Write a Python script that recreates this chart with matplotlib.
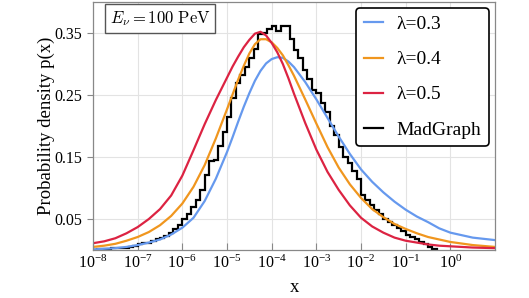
import numpy as np
import matplotlib
matplotlib.use("Agg")
import matplotlib.pyplot as plt

plt.rcParams["font.family"] = ["Liberation Serif", "DejaVu Serif"]
plt.rcParams["mathtext.fontset"] = "stix"

# curves: log10(x) and p(x)
logx_03 = [-8.0, -7.75, -7.5, -7.25, -7.0, -6.75, -6.5, -6.25, -6.0, -5.75, -5.5, -5.25,
           -5.0, -4.875, -4.75, -4.625, -4.5, -4.375, -4.25, -4.125, -4.0, -3.875, -3.75,
           -3.625, -3.5, -3.25, -3.0, -2.75, -2.5, -2.25, -2.0, -1.75, -1.5, -1.25, -1.0,
           -0.75, -0.5, -0.25, 0.0, 0.25, 0.5, 0.75, 1.0]
p_03 = [0.001, 0.002, 0.003, 0.005, 0.008, 0.012, 0.017, 0.025, 0.036, 0.052, 0.079, 0.115,
        0.158, 0.182, 0.207, 0.231, 0.253, 0.273, 0.289, 0.301, 0.308, 0.311, 0.310,
        0.304, 0.295, 0.271, 0.243, 0.213, 0.183, 0.155, 0.130, 0.110, 0.093, 0.078, 0.065,
        0.054, 0.045, 0.035, 0.028, 0.024, 0.020, 0.018, 0.016]

logx_04 = [-8.0, -7.75, -7.5, -7.25, -7.0, -6.75, -6.5, -6.25, -6.0, -5.75, -5.5, -5.25,
           -5.0, -4.875, -4.75, -4.625, -4.5, -4.375, -4.25, -4.125, -4.0, -3.875, -3.75,
           -3.625, -3.5, -3.25, -3.0, -2.75, -2.5, -2.25, -2.0, -1.75, -1.5, -1.25, -1.0,
           -0.75, -0.5, -0.25, 0.0, 0.5, 1.0]
p_04 = [0.005, 0.007, 0.010, 0.015, 0.021, 0.029, 0.040, 0.055, 0.075, 0.102, 0.137, 0.180,
        0.227, 0.251, 0.275, 0.297, 0.317, 0.332, 0.340, 0.340, 0.335, 0.326, 0.314,
        0.298, 0.281, 0.243, 0.204, 0.166, 0.133, 0.106, 0.084, 0.066, 0.053, 0.042, 0.034,
        0.027, 0.021, 0.017, 0.013, 0.008, 0.005]

logx_05 = [-8.0, -7.75, -7.5, -7.25, -7.0, -6.75, -6.5, -6.25, -6.0, -5.75, -5.5, -5.25,
           -5.0, -4.875, -4.75, -4.625, -4.5, -4.375, -4.25, -4.125, -4.0, -3.875, -3.75,
           -3.625, -3.5, -3.25, -3.0, -2.75, -2.5, -2.25, -2.0, -1.75, -1.5, -1.25, -1.0,
           -0.75, -0.5, -0.25, 0.0, 0.5, 1.0]
p_05 = [0.011, 0.014, 0.019, 0.027, 0.037, 0.050, 0.066, 0.088, 0.120, 0.161, 0.203, 0.242,
        0.278, 0.296, 0.312, 0.327, 0.339, 0.349, 0.352, 0.346, 0.334, 0.319, 0.300,
        0.277, 0.252, 0.205, 0.162, 0.126, 0.097, 0.072, 0.052, 0.038, 0.028, 0.020, 0.015,
        0.012, 0.009, 0.007, 0.006, 0.004, 0.003]

# MadGraph histogram, bins of 0.1 in log10(x) from 1e-8 to 10^-0.3
hist_lo, hist_hi = -8.0, -0.3
hist_vals = [0.000, 0.001, 0.001, 0.002, 0.003, 0.003, 0.004, 0.004, 0.005, 0.007,
             0.010, 0.011, 0.012, 0.014, 0.017, 0.019, 0.023, 0.028, 0.034, 0.040,
             0.050, 0.058, 0.070, 0.081, 0.097, 0.121, 0.143, 0.146, 0.168, 0.190,
             0.215, 0.245, 0.270, 0.282, 0.296, 0.309, 0.325, 0.349, 0.350, 0.357,
             0.362, 0.353, 0.362, 0.362, 0.341, 0.323, 0.309, 0.290, 0.276, 0.258,
             0.253, 0.237, 0.222, 0.200, 0.185, 0.166, 0.150, 0.140, 0.128, 0.115,
             0.088, 0.080, 0.073, 0.064, 0.058, 0.050, 0.045, 0.040, 0.035, 0.030,
             0.025, 0.021, 0.017, 0.013, 0.009, 0.005, 0.002]

xticks = [1e-8, 1e-7, 1e-6, 1e-5, 1e-4, 1e-3, 1e-2, 1e-1, 1e0]
yticks = [0.05, 0.15, 0.25, 0.35]

fig = plt.figure(figsize=(5.29, 2.98), dpi=100)
ax = fig.add_axes([0.1758, 0.161, 0.76, 0.8322])

ax.plot(10 ** np.array(logx_03), p_03, color="#6699EE", lw=1.6, label="λ=0.3")
ax.plot(10 ** np.array(logx_04), p_04, color="#F0961E", lw=1.6, label="λ=0.4")
ax.plot(10 ** np.array(logx_05), p_05, color="#DC2342", lw=1.6, label="λ=0.5")
edges = 10 ** np.linspace(hist_lo, hist_hi, len(hist_vals) + 1)
ax.stairs(hist_vals, edges, color="black", lw=1.6, label="MadGraph")

ax.set_xscale("log")
ax.set_xlim(1e-8, 1e1)
ax.set_ylim(0, 0.40)
ax.set_xticks(xticks)
ax.set_yticks(yticks)
ax.set_yticklabels(["0.05", "0.15", "0.25", "0.35"])
ax.grid(True, which="major", color="#e3e3e3", lw=0.8)
ax.set_axisbelow(True)

for s in ax.spines.values():
    s.set_color("#888888")
    s.set_linewidth(0.9)
ax.tick_params(axis="x", which="both", direction="in", colors="#888888",
               labelcolor="black", labelsize=11.5)
ax.tick_params(axis="x", which="major", length=5)
ax.tick_params(axis="x", which="minor", length=3)
ax.tick_params(axis="y", direction="out", length=4, colors="#888888",
               labelcolor="black", labelsize=11.5)

ax.set_xlabel("x", fontsize=13.5, labelpad=5)
ax.set_ylabel("Probability density p(x)", fontsize=13.5, labelpad=0)

ax.text(0.167, 0.935, r"$E_{\nu} = 100\ \mathrm{PeV}$", transform=ax.transAxes,
        ha="center", va="center", fontsize=12, math_fontfamily="cm",
        bbox=dict(boxstyle="square,pad=0.3", fc="white", ec="#555555", lw=1.0))

leg = ax.legend(loc="upper right", fontsize=14, handlelength=1.0, handletextpad=0.7,
                labelspacing=0.9, borderaxespad=0.3, fancybox=True, framealpha=1)
leg.get_frame().set_edgecolor("black")
leg.get_frame().set_linewidth(1.2)

fig.savefig("out.png", dpi=100)
